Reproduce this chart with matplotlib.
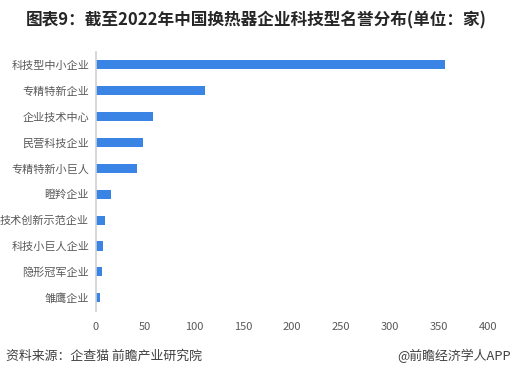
import matplotlib
matplotlib.use('Agg')
import matplotlib.pyplot as plt

plt.rcParams['font.family'] = ['Noto Sans CJK SC', 'DejaVu Sans']

# data (top to bottom)
cats = ['科技型中小企业', '专精特新企业', '企业技术中心', '民营科技企业', '专精特新小巨人',
        '瞪羚企业', '技术创新示范企业', '科技小巨人企业', '隐形冠军企业', '雏鹰企业']
vals = [356, 111, 58, 48, 42, 15, 9, 7, 6, 4]
xticks = [0, 50, 100, 150, 200, 250, 300, 350, 400]

title = '图表9：截至2022年中国换热器企业科技型名誉分布(单位：家)'
source = '资料来源：企查猫 前瞻产业研究院'
brand = '@前瞻经济学人APP'

fig = plt.figure(figsize=(5.12, 3.78), dpi=100)
ax = fig.add_axes([0.1875, 0.178, 0.766, 0.685])

y = list(range(len(cats)))
ax.barh(y, vals, height=0.35, color='#3a84e6')
ax.set_yticks(y)
ax.set_yticklabels(cats)
ax.set_ylim(len(cats) - 0.5, -0.5)
ax.set_xlim(0, 400)
ax.set_xticks(xticks)
ax.tick_params(axis='both', length=0, labelsize=8, colors='#595959')
ax.tick_params(axis='x', pad=8)
ax.tick_params(axis='y', pad=5)
for s in ['top', 'right', 'bottom']:
    ax.spines[s].set_visible(False)
ax.spines['left'].set_color('#d0d0d0')
ax.spines['left'].set_linewidth(1.2)

fig.text(0.5, 0.945, title, ha='center', va='center', fontsize=12, fontweight='bold', color='#262626')
fig.text(0.012, 0.058, source, ha='left', va='center', fontsize=9.3, color='#404040')
fig.text(0.998, 0.058, brand, ha='right', va='center', fontsize=9.3, color='#404040')

fig.savefig('out.png', dpi=100)
